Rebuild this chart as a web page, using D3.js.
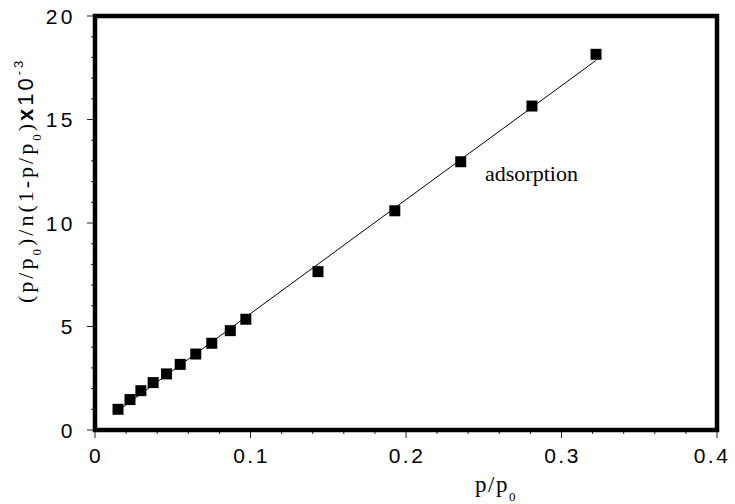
<!DOCTYPE html>
<html>
<head>
<meta charset="utf-8">
<script src="https://cdn.jsdelivr.net/npm/d3@7"></script>
<style>
  html, body { margin: 0; padding: 0; background: #fff; }
  svg { display: block; }
</style>
</head>
<body>
<svg id="chart" width="735" height="504"></svg>
<script>
// ---- data ----
const pRel = [0.0148, 0.0225, 0.0295, 0.0374, 0.0460, 0.0548, 0.0648, 0.0751, 0.0870, 0.0970, 0.1434, 0.1928, 0.2352, 0.2810, 0.3222];
const bet  = [1.00, 1.47, 1.90, 2.29, 2.71, 3.17, 3.67, 4.19, 4.80, 5.35, 7.65, 10.59, 12.96, 15.65, 18.15];
const xTickValues = [0, 0.1, 0.2, 0.3, 0.4];
const xTickLabels = ["0", "0.1", "0.2", "0.3", "0.4"];
const yTickValues = [0, 5, 10, 15, 20];
const yTickLabels = ["0", "5", "10", "15", "20"];
const seriesLabel = "adsorption";

const svg = d3.select("#chart");
const x = d3.scaleLinear().domain([0, 0.4]).range([95, 717]);
const y = d3.scaleLinear().domain([0, 20]).range([430, 16]);

// minor ticks
const xMinor = d3.range(0, 0.4001, 0.02);
const yMinor = d3.range(0, 20.001, 1);

const tickG = svg.append("g").attr("stroke", "#222").attr("stroke-width", 1);
tickG.selectAll(".xm").data(xMinor).enter().append("line")
  .attr("x1", d => x(d)).attr("x2", d => x(d))
  .attr("y1", y(0)).attr("y2", d => y(0) + (xTickValues.some(v => Math.abs(v - d) < 1e-9) ? 8 : 4));
tickG.selectAll(".ym").data(yMinor).enter().append("line")
  .attr("y1", d => y(d)).attr("y2", d => y(d))
  .attr("x1", x(0)).attr("x2", d => x(0) - (yTickValues.some(v => Math.abs(v - d) < 1e-9) ? 8 : 4));

// tick labels
svg.append("g").selectAll("text").data(xTickValues).enter().append("text")
  .attr("x", d => Math.min(x(d) + 1, 712)).attr("y", 463)
  .attr("text-anchor", "middle")
  .attr("font-family", "Liberation Sans, Arial, sans-serif")
  .attr("font-size", 21).attr("letter-spacing", 2.5)
  .text((d, i) => xTickLabels[i]);

svg.append("g").selectAll("text").data(yTickValues).enter().append("text")
  .attr("x", 76).attr("y", d => y(d) + 7.5)
  .attr("text-anchor", "end")
  .attr("font-family", "Liberation Sans, Arial, sans-serif")
  .attr("font-size", 21).attr("letter-spacing", 3.5)
  .text((d, i) => yTickLabels[i]);

// fit line (least squares through the data)
const mx = d3.mean(pRel), my = d3.mean(bet);
const slope = d3.sum(pRel, (v, i) => (v - mx) * (bet[i] - my)) / d3.sum(pRel, v => (v - mx) * (v - mx));
const icpt = my - slope * mx;
const fitX = [d3.min(pRel), d3.max(pRel)];
svg.append("line")
  .attr("x1", x(fitX[0])).attr("y1", y(icpt + slope * fitX[0]))
  .attr("x2", x(fitX[1])).attr("y2", y(icpt + slope * fitX[1]))
  .attr("stroke", "#000").attr("stroke-width", 1);

// markers
const sz = 11;
svg.append("g").selectAll("rect").data(pRel).enter().append("rect")
  .attr("x", d => x(d) - sz / 2)
  .attr("y", (d, i) => y(bet[i]) - sz / 2)
  .attr("width", sz).attr("height", sz)
  .attr("fill", "#000");

// frame
svg.append("rect")
  .attr("x", x(0)).attr("y", y(20))
  .attr("width", x(0.4) - x(0)).attr("height", y(0) - y(20))
  .attr("fill", "none").attr("stroke", "#000").attr("stroke-width", 4.5);

// series label
svg.append("text").attr("x", 485).attr("y", 181)
  .attr("font-family", "Liberation Serif, Times New Roman, serif")
  .attr("font-size", 22).text(seriesLabel);

// x axis label p/p0
const xl = svg.append("text").attr("x", 475).attr("y", 492)
  .attr("font-family", "Liberation Serif, Times New Roman, serif")
  .attr("font-size", 23).attr("letter-spacing", 1.5);
xl.append("tspan").text("p/p");
xl.append("tspan").attr("font-size", 13).attr("dy", 9).text("0");

// y axis label
const yl = svg.append("text")
  .attr("transform", "translate(33,303) rotate(-90)")
  .attr("font-family", "Liberation Serif, Times New Roman, serif")
  .attr("font-size", 22).attr("letter-spacing", 3);
yl.append("tspan").text("(p/p");
yl.append("tspan").attr("font-size", 13).attr("dy", 8).text("0");
yl.append("tspan").attr("dy", -8).text(")/n(1-p/p");
yl.append("tspan").attr("font-size", 13).attr("dy", 8).text("0");
yl.append("tspan").attr("dy", -8).text(")");
yl.append("tspan").attr("font-family", "Liberation Sans, Arial, sans-serif").attr("font-weight", "bold").text("x");
yl.append("tspan").attr("font-family", "Liberation Sans, Arial, sans-serif").text("10");
yl.append("tspan").attr("font-family", "Liberation Sans, Arial, sans-serif").attr("font-size", 13).attr("dy", -10).text("-3");
</script>
</body>
</html>
